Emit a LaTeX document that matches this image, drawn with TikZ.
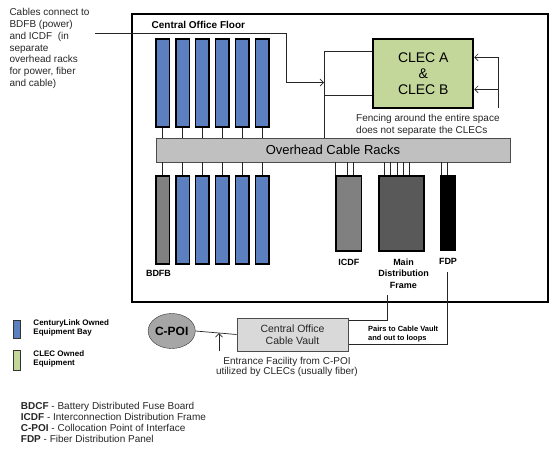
\documentclass[tikz,border=0pt]{standalone}
\usepackage{fontspec}
\setmainfont{Liberation Sans}
\usetikzlibrary{positioning,shapes,arrows.meta}

\definecolor{baycolor}{RGB}{91,127,191}
\definecolor{cleccolor}{RGB}{196,215,155}
\definecolor{rackgray}{RGB}{192,192,192}
\definecolor{vaultgray}{RGB}{217,217,217}
\definecolor{poigray}{RGB}{166,166,166}
\definecolor{icdfgray}{RGB}{128,128,128}
\definecolor{mdfgray}{RGB}{89,89,89}

\begin{document}
\begin{tikzpicture}[x=1pt,y=-1pt,
  bay/.style={draw,line width=1.5pt,fill=baycolor,minimum width=13.5pt,minimum height=88pt,inner sep=0pt},
  frame/.style={draw,line width=1.5pt,minimum height=75pt,inner sep=0pt},
  tag/.style={font=\bfseries\fontsize{9}{11.5}\selectfont,align=center,inner sep=0pt},
  note/.style={font=\fontsize{10}{11.8}\selectfont,align=left,inner sep=0pt,text=black!85},
  wire/.style={line width=0.7pt,black!85},
  tip/.style={-{Straight Barb[length=3.5pt,width=7pt]}}]

\useasboundingbox (0,0) rectangle (550,453);

% central office floor
\draw[line width=2pt] (132,14) rectangle (548,301.5);
\node[anchor=west,inner sep=0pt,font=\bfseries\fontsize{10}{11}\selectfont] (floor) at (151.5,24.5) {Central Office Floor};

\node[draw,black!70,fill=rackgray,text=black,minimum width=354pt,minimum height=24pt,inner sep=0pt,font=\fontsize{13}{14}\selectfont] (racks) at (333,150) {Overhead Cable Racks};

% equipment bays above and below the racks
\foreach \i/\x in {1/162.5,2/182.5,3/202.3,4/222.2,5/242,6/262} {
  \node[bay] (u\i) at (\x,83) {};
  \draw[wire] (u\i.south) -- (u\i.south |- racks.north);
}
\foreach \i/\x/\c in {1/162.5/icdfgray,2/182.5/baycolor,3/202.3/baycolor,4/222.2/baycolor,5/242/baycolor,6/262/baycolor} {
  \node[bay,fill=\c] (d\i) at (\x,220) {};
  \draw[wire] (d\i.north) -- (d\i.north |- racks.south);
}
\node[tag,below=5.5pt of d1,xshift=-4pt] (bdfb) {BDFB};

% frames
\node[frame,fill=icdfgray,minimum width=25.7pt] (icdf) at (348.8,213.5) {};
\node[frame,fill=mdfgray,minimum width=45pt] (mdf) at (401.5,213.5) {};
\node[frame,fill=black,minimum width=14pt] (fdp) at (448,213) {};

\foreach \d in {0.6,12,18} {
  \path (icdf.north west) ++(\d,0) coordinate (t);
  \draw[wire] (t) -- (t |- racks.south);
}
\foreach \d in {6,12,18.7,25,31} {
  \path (mdf.north west) ++(\d,0) coordinate (t);
  \draw[wire] (t) -- (t |- racks.south);
}
\foreach \d in {0.7,6.7} {
  \path (fdp.north west) ++(\d,0) coordinate (t);
  \draw[wire] (t) -- (t |- racks.south);
}

\node[tag,below=7pt of icdf] (icdfname) {ICDF};
\node[tag,below=7pt of mdf,xshift=2pt] (mdfname) {Main\\Distribution\\Frame};
\node[tag,below=7pt of fdp] (fdpname) {FDP};

% CLEC space
\node[draw,line width=1.8pt,fill=cleccolor,minimum width=100pt,minimum height=69pt,align=center,font=\fontsize{14}{16}\selectfont] (clec) at (423.3,73.8) {CLEC A\\\&\\CLEC B};
\node[note,anchor=north west,font=\fontsize{10}{11.7}\selectfont] (fence) at (356,114.3) {Fencing around the entire space\\does not separate the CLECs};

\coordinate (bus1) at (324,51.7);
\coordinate (bus2) at (324,95.3);
\coordinate (busin) at (324,82.7);
\draw[wire] (racks.north -| bus1) -- (bus1) -- (bus1 -| clec.west);
\draw[wire] (bus2) -- (bus2 -| clec.west);

\coordinate (feedtop) at (498.3,57.3);
\coordinate (feedmid) at (498.3,89.3);
\coordinate (feedbot) at (498.3,108.3);
\draw[wire,tip] (feedbot) -- (feedtop) -- (feedtop -| clec.east);
\draw[wire,tip] (feedmid) -- (feedmid -| clec.east);

% cable note
\node[note,anchor=north west] (cables) at (9.3,8.2) {Cables connect to\\BDFB (power)\\and ICDF \ (in\\separate\\overhead racks\\for power, fiber\\and cable)};
\coordinate (cablestart) at (95,33.3);
\coordinate (cablebend) at (286,82.7);
\draw[wire,tip] (cablestart) -| (cablebend) -- (busin);

% cable vault and entrance
\node[ellipse,draw,black!80,fill=poigray,text=black,minimum width=43.4pt,minimum height=35pt,inner sep=0pt,font=\bfseries\fontsize{12}{13}\selectfont] (cpoi) at (171.7,331) {C-POI};
\node[draw,black!70,fill=vaultgray,text=black!85,minimum width=111.6pt,minimum height=32.5pt,align=center,font=\fontsize{10.5}{11.7}\selectfont] (vault) at (292.5,334.5) {Central Office\\Cable Vault};
\draw[wire] (cpoi.east) -- (vault.west) coordinate[pos=0.59] (emeet);
\coordinate (efoot) at (219,351);
\draw[wire,tip] (efoot) -- (efoot |- emeet);
\node[note,align=center,font=\fontsize{10}{10.3}\selectfont] (entrance) at (287,366.8) {Entrance Facility from C-POI\\utilized by CLECs (usually fiber)};

\coordinate (mdfdrop) at (387.3,295);
\coordinate (fdpdrop) at (447.5,272.3);
\coordinate (vin1) at ([yshift=-2pt]vault.north east);
\coordinate (vin2) at ([yshift=6.5pt]vault.south east);
\draw[wire] (mdfdrop) |- (vin1);
\draw[wire] (fdpdrop) |- (vin2);
\node[anchor=north west,align=left,inner sep=0pt,font=\bfseries\fontsize{7.5}{9.4}\selectfont] (pairs) at (368,325.4) {Pairs to Cable Vault\\and out to loops};

% legend
\node[draw,black!80,line width=0.8pt,fill=baycolor,minimum width=6.7pt,minimum height=17.6pt,inner sep=0pt] (keybay) at (16.7,329.5) {};
\node[anchor=north west,align=left,inner sep=0pt,font=\bfseries\fontsize{8}{9}\selectfont] (keybaytext) at (33.3,319.8) {CenturyLink Owned\\Equipment Bay};
\node[draw,black!80,line width=0.8pt,fill=cleccolor,minimum width=6.7pt,minimum height=20pt,inner sep=0pt] (keyclec) at (16.7,360.7) {};
\node[anchor=north west,align=left,inner sep=0pt,font=\bfseries\fontsize{8}{9.4}\selectfont] (keyclectext) at (33.3,350.4) {CLEC Owned\\Equipment};

\node[note,anchor=north west,font=\fontsize{10}{10.8}\selectfont] (abbrev) at (20.7,402.4) {\textbf{BDCF} - Battery Distributed Fuse Board\\\textbf{ICDF} - Interconnection Distribution Frame\\\textbf{C-POI} - Collocation Point of Interface\\\textbf{FDP} - Fiber Distribution Panel};
\end{tikzpicture}
\end{document}
